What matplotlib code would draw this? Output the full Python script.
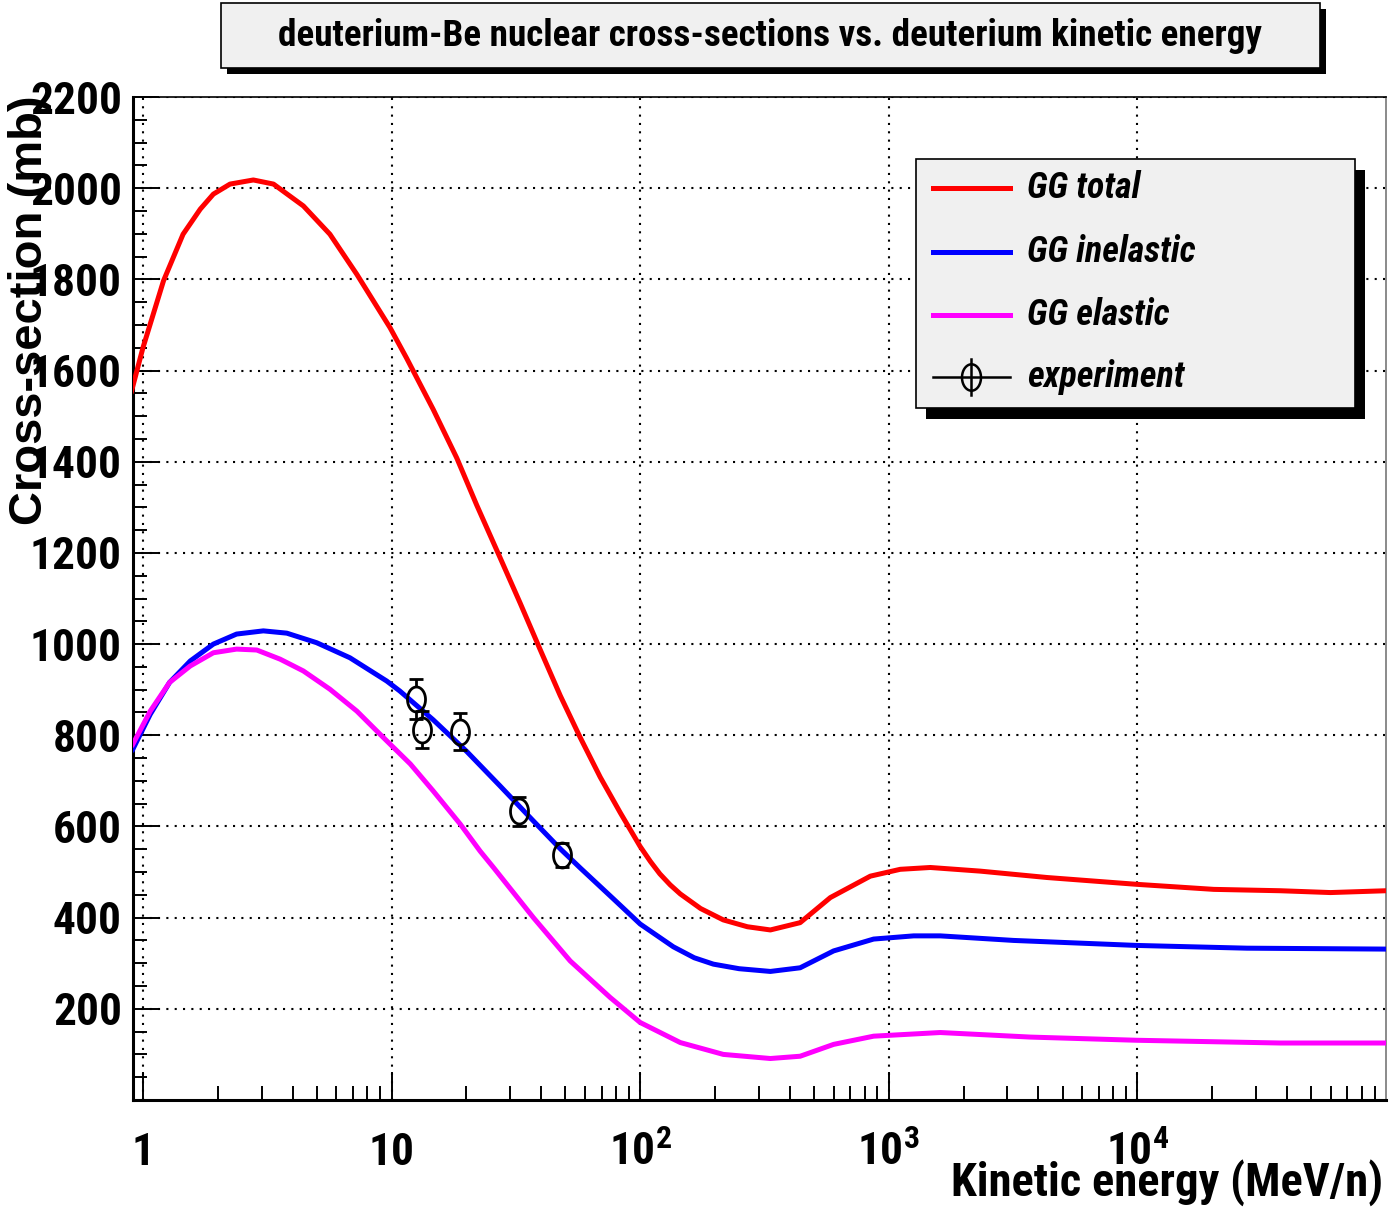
import matplotlib
matplotlib.use('Agg')
import numpy as np
import matplotlib.pyplot as plt
from matplotlib import font_manager
from matplotlib.patches import Rectangle
from matplotlib.lines import Line2D
from matplotlib.path import Path
from matplotlib.ticker import FixedLocator, NullFormatter

# --- data (MeV/n, mb) ---
e_total = [0.90, 1.0, 1.21, 1.45, 1.70, 1.92, 2.24, 2.78, 3.35, 4.42, 5.65, 7.25, 9.86,
           11.5, 14.7, 18.3, 22.0, 27.3, 32.9, 39.6, 47.7, 57.4, 69.1, 83.2, 100,
           110, 120, 132, 145, 175, 216, 270, 334, 440, 582, 843, 1112, 1469, 2335, 4332,
           9970, 20280, 37600, 59800, 100000]
s_total = [1555, 1650, 1797, 1899, 1954, 1987, 2009, 2018, 2009, 1961, 1899, 1811, 1694,
           1627, 1515, 1408, 1305, 1190, 1090, 988, 887, 795, 708, 630, 556,
           523, 496, 472, 452, 420, 395, 380, 373, 389, 444, 491, 506, 510, 502, 488,
           473, 462, 459, 455, 459]

e_inel = [0.91, 1.07, 1.28, 1.55, 1.92, 2.38, 3.05, 3.79, 5.0, 6.8, 9.56, 10.8, 14.7,
          20.1, 27.3, 37.2, 47.7, 57.4, 78.1, 100, 136, 165, 197, 250, 334, 440, 600,
          869, 1259, 1611, 3177, 9970, 27600, 100000]
s_inel = [769, 846, 916, 963, 1000, 1022, 1029, 1024, 1003, 970, 919, 897, 834,
          764, 689, 612, 551, 509, 441, 386, 336, 312, 298, 288, 282, 290, 327,
          353, 360, 360, 350, 339, 333, 331]

e_el = [0.91, 1.07, 1.28, 1.55, 1.92, 2.38, 2.87, 3.56, 4.42, 5.65, 7.25, 9.27, 11.9,
        14.7, 18.9, 22.7, 25.7, 37.2, 52.3, 75.7, 100, 145, 216, 334, 440, 600,
        869, 1611, 3710, 9970, 37600, 100000]
s_el = [780, 853, 916, 952, 981, 989, 987, 967, 941, 901, 853, 795, 737,
        678, 605, 546, 510, 400, 305, 225, 170, 126, 100, 91, 96, 122,
        140, 148, 138, 131, 125, 125]

e_exp = [12.55, 13.3, 18.9, 32.7, 48.7]
s_exp = [880, 812, 808, 633, 537]
err_exp = [44, 41, 40, 31, 26]

legend_labels = ['GG total', 'GG inelastic', 'GG elastic', 'experiment']
colors = ['#ff0000', '#0000ff', '#ff00ff']

# --- fonts: prefer a narrow/condensed sans like ROOT's helvetica bold ---
names = sorted({f.name for f in font_manager.fontManager.ttflist})
narrow = 'Liberation Sans'
for cand in ['Liberation Sans Narrow', 'Roboto Condensed', 'Open Sans Condensed', 'DejaVu Sans Condensed']:
    if cand in names:
        narrow = cand
        break
plt.rcParams['font.family'] = [narrow, 'DejaVu Sans']
plt.rcParams['font.weight'] = 'bold'
plt.rcParams['font.stretch'] = 'condensed'
plt.rcParams['mathtext.fontset'] = 'custom'
plt.rcParams['mathtext.rm'] = narrow + ':bold'
plt.rcParams['mathtext.bf'] = narrow + ':bold'
plt.rcParams['mathtext.it'] = narrow + ':bold:italic'

W, H = 1389, 1209
def fx(px):
    return px / W
def fy(py):
    return 1 - py / H

fig = plt.figure(figsize=(W / 100, H / 100), dpi=100)
renderer = fig.canvas.get_renderer()

def fit(t, target, horizontal=True):
    bb = t.get_window_extent(renderer)
    size = bb.width if horizontal else bb.height
    t.set_fontsize(t.get_fontsize() * target / size)

# size for the tick numbers from the width of "1000" in the reference
probe = fig.text(0, 0, '1000', fontsize=34, fontweight='bold')
tick_size = 34 * 92 / probe.get_window_extent(renderer).width
probe.remove()

ax = fig.add_axes([fx(133), fy(1100), (1386 - 133) / W, (1100 - 97) / H])
ax.set_xscale('log')
ax.set_xlim(0.912, 1.0e5)
ax.set_ylim(0, 2200)

ax.plot(e_total, s_total, color=colors[0], lw=3.6, zorder=3)
ax.plot(e_inel, s_inel, color=colors[1], lw=3.6, zorder=3)
ax.plot(e_el, s_el, color=colors[2], lw=3.6, zorder=3)

# ellipse marker like ROOT's open circle
t = np.linspace(0, 2 * np.pi, 60)
ell = Path(np.column_stack([0.72 * np.cos(t), np.sin(t)]), closed=True)
ax.plot(e_exp, s_exp, ls='none', marker=ell, ms=18, mfc='none', mec='black', mew=2.0, zorder=5)

# error bars drawn outside the marker, as ROOT does
inv = ax.transData.inverted()
for x, y, e in zip(e_exp, s_exp, err_exp):
    dx, dy = ax.transData.transform((x, y))
    r = inv.transform((dx, dy + 12))[1] - y
    ax.vlines(x, y + r, y + e, color='black', lw=2.0, zorder=5)
    ax.vlines(x, y - e, y - r, color='black', lw=2.0, zorder=5)
    ax.plot([x, x], [y - e, y + e], ls='none', marker='_', ms=10, mew=2.0, color='black', zorder=5)

# ticks and grid
ax.xaxis.set_major_locator(FixedLocator([1, 10, 100, 1e3, 1e4]))
ax.xaxis.set_minor_locator(FixedLocator([m * 10 ** d for d in range(0, 5) for m in range(2, 10)]))
ax.xaxis.set_major_formatter(NullFormatter())
ax.xaxis.set_minor_formatter(NullFormatter())
ax.set_yticks(range(200, 2201, 200))
ax.yaxis.set_minor_locator(FixedLocator(range(50, 2200, 50)))
ax.tick_params(axis='both', which='both', direction='in', top=False, right=False, width=1.4)
ax.tick_params(axis='x', which='major', length=20)
ax.tick_params(axis='x', which='minor', length=10)
ax.tick_params(axis='y', which='major', length=19, labelsize=tick_size, pad=8)
ax.tick_params(axis='y', which='minor', length=10)
ax.grid(which='major', color='black', linestyle=(0, (1, 3)), lw=1.5, zorder=1)

xt_labels = ['1', '10', '$10^{2}$', '$10^{3}$', '$10^{4}$']
for v, lab in zip([1, 10, 100, 1e3, 1e4], xt_labels):
    ax.text(v, -0.065, lab, transform=ax.get_xaxis_transform(), ha='center', va='baseline',
            fontsize=tick_size, fontweight='bold')

for s in ['left', 'bottom']:
    ax.spines[s].set_linewidth(2.2)
ax.spines['top'].set_linewidth(1.2)
ax.spines['right'].set_linewidth(1.2)
ax.spines['right'].set_color('#777777')

# axis titles
ylab = fig.text(fx(30), fy(95), 'Cross-section (mb)', rotation=90, ha='center', va='top',
                fontsize=34, fontweight='bold', family=['Liberation Sans', 'DejaVu Sans'],
                fontstretch='normal')
fit(ylab, 430, horizontal=False)
xlab = fig.text(fx(1383), fy(1196), 'Kinetic energy (MeV/n)', ha='right', va='baseline',
                fontsize=34, fontweight='bold')
fit(xlab, 433)

# title box with shadow
fig.add_artist(Rectangle((fx(227), fy(74)), (1320 - 221) / W, (68 - 3) / H,
                         transform=fig.transFigure, fc='black', ec='none'))
fig.add_artist(Rectangle((fx(221), fy(68)), (1320 - 221) / W, (68 - 3) / H,
                         transform=fig.transFigure, fc='#f0f0f0', ec='black', lw=1.2))
title = fig.text(fx(770), fy(36), 'deuterium-Be nuclear cross-sections vs. deuterium kinetic energy',
                 ha='center', va='center', fontsize=26, fontweight='bold')
fit(title, 986)

# legend box with shadow
fig.add_artist(Rectangle((fx(926), fy(419)), (1355 - 916) / W, (408 - 159) / H,
                         transform=fig.transFigure, fc='black', ec='none', zorder=6))
fig.add_artist(Rectangle((fx(916), fy(408)), (1355 - 916) / W, (408 - 159) / H,
                         transform=fig.transFigure, fc='#f0f0f0', ec='black', lw=1.2, zorder=7))
probe = fig.text(0, 0, 'GG inelastic', fontsize=25, fontweight='bold', fontstyle='italic')
leg_size = 25 * 169 / probe.get_window_extent(renderer).width
probe.remove()
rows = [188, 252, 315, 377]
for i, (py, lab) in enumerate(zip(rows, legend_labels)):
    if i < 3:
        fig.add_artist(Line2D([fx(933), fx(1010)], [fy(py), fy(py)], transform=fig.transFigure,
                              color=colors[i], lw=3.6, zorder=8))
    else:
        fig.add_artist(Line2D([fx(933), fx(1010)], [fy(py), fy(py)], transform=fig.transFigure,
                              color='black', lw=1.8, zorder=8))
        fig.add_artist(Line2D([fx(971), fx(971)], [fy(py - 18), fy(py + 18)], transform=fig.transFigure,
                              color='black', lw=1.8, zorder=8))
        fig.add_artist(Line2D([fx(971)], [fy(py)], transform=fig.transFigure, ls='none',
                              marker=ell, ms=19, mfc='none', mec='black', mew=1.8, zorder=8))
    fig.text(fx(1027), fy(py), lab, ha='left', va='center', fontsize=leg_size, fontweight='bold',
             fontstyle='italic', zorder=9)

fig.savefig('out.png', dpi=100)
